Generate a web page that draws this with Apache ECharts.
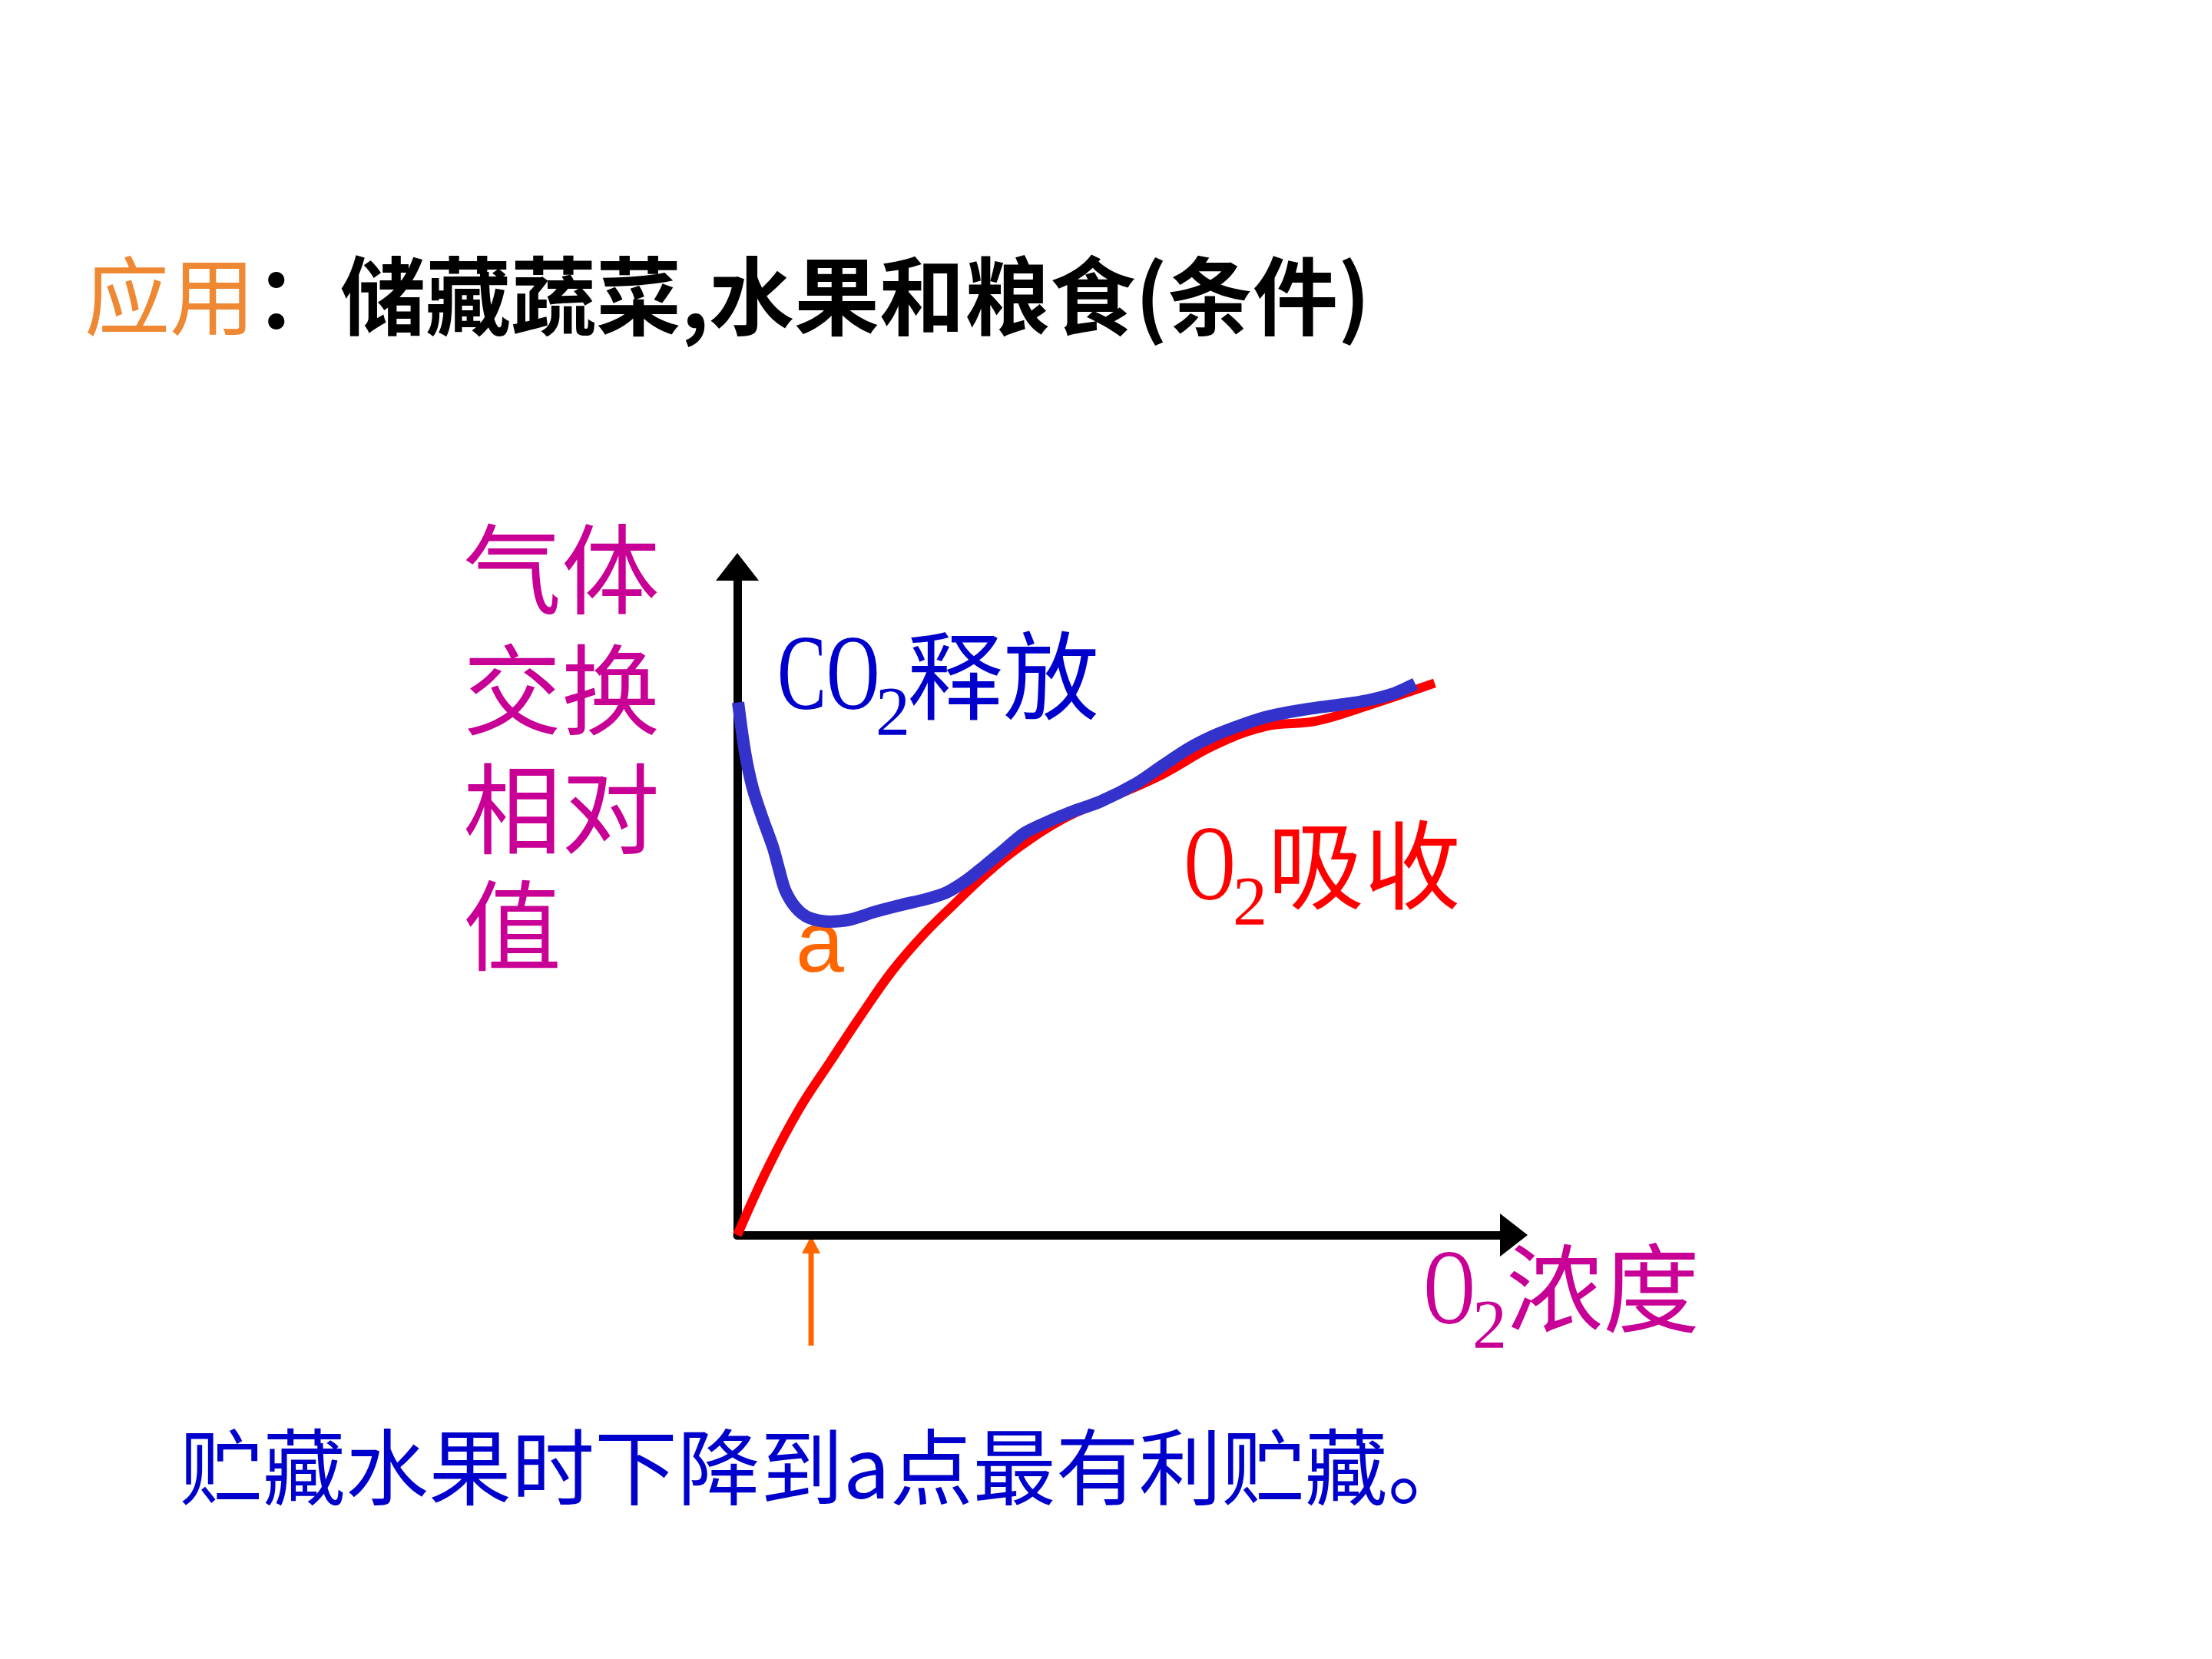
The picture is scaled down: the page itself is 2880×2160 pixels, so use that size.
<!DOCTYPE html>
<html>
<head>
<meta charset="utf-8">
<title>储藏蔬菜,水果和粮食</title>
<script src="https://cdn.jsdelivr.net/npm/echarts@6/dist/echarts.min.js"></script>
<style>
  html, body { margin: 0; padding: 0; background: #fff; }
  #chart { width: 2880px; height: 2160px; }
</style>
</head>
<body>
<div id="chart"></div>
<script>
// 横轴 O2 浓度、纵轴 气体交换相对值，都按 0-100 的相对刻度从原图读出
const o2Uptake = [
  [0, 0], [4, 10.2], [8, 18.9], [12, 26.0], [16, 33.0], [20, 39.6],
  [24, 45.0], [28, 49.6], [32, 54.0], [36, 57.8], [42, 62.3], [48, 65.4],
  [54.7, 68.9], [61.3, 73.2], [68.0, 76.1], [74.5, 76.9], [81.1, 79.2],
  [89.8, 82.6]
]
const co2Release = [
  [0.1, 79.7], [1.0, 72.2], [2.0, 66.8], [3.3, 62.2], [4.6, 58.0], [5.4, 54.6],
  [6.2, 51.5], [7.6, 48.9], [9.2, 47.5], [11.9, 46.9], [14.5, 47.2],
  [17.8, 48.4], [21.1, 49.4], [24.4, 50.3], [27.0, 51.3], [29.4, 53.0],
  [31.7, 55.1], [34.3, 57.6], [36.9, 60.1], [39.3, 61.5], [43.0, 63.3],
  [46.8, 64.9], [51.4, 67.6], [54.7, 70.2], [58.1, 72.8], [61.3, 74.7],
  [64.6, 76.2], [68.0, 77.5], [71.2, 78.3], [74.5, 78.9], [77.8, 79.4],
  [81.1, 80.0], [84.4, 81.0], [86.4, 82.0], [87.3, 82.5]
]
// 箭头指向的 O2 浓度（a 点附近）
const pointA = 9.5

const titleHead = '应用'
const titleBody = '：储藏蔬菜,水果和粮食(条件)'
const yNameLines = ['气体', '交换', '相对', '值']
const noteText = '贮藏水果时下降到a点最有利贮藏。'

const CJK = '"Noto Sans CJK SC", sans-serif'
const SERIF = '"Liberation Serif", serif'
const MAGENTA = '#C80096'
const BLUE = '#0000CC'
const RED = '#FF0000'
const ORANGE = '#FF6600'

const chart = echarts.init(document.getElementById('chart'), null, { renderer: 'canvas' })

function txt(id, text, x, y, color, size, family, opts = {}) {
  return {
    type: 'text', id, x, y,
    scaleX: opts.scaleX || 1,
    silent: true,
    style: {
      text, fill: color,
      fontSize: size, fontFamily: family, fontWeight: opts.weight || 'normal',
      align: 'left', verticalAlign: 'middle',
      textAlign: 'left', textVerticalAlign: 'middle'
    }
  }
}

const axisLine = {
  show: true,
  onZero: true,
  symbol: ['none', 'triangle'],
  symbolSize: [56, 36],
  lineStyle: { color: '#000', width: 11 }
}

chart.setOption({
  animation: false,
  backgroundColor: '#fff',
  grid: { left: 960, top: 738, width: 1011, height: 870, containLabel: false },
  xAxis: {
    type: 'value', min: 0, max: 100,
    axisLine,
    axisTick: { show: false }, axisLabel: { show: false }, splitLine: { show: false }
  },
  yAxis: {
    type: 'value', min: 0, max: 100,
    axisLine,
    axisTick: { show: false }, axisLabel: { show: false }, splitLine: { show: false }
  },
  series: [
    {
      name: 'O2吸收', type: 'line', data: o2Uptake,
      showSymbol: false, smooth: 0.4, clip: false, silent: true, z: 2,
      lineStyle: { color: RED, width: 12 }, itemStyle: { color: RED }
    },
    {
      name: 'CO2释放', type: 'line', data: co2Release,
      showSymbol: false, smooth: 0.3, clip: false, silent: true, z: 3,
      lineStyle: { color: '#3333CC', width: 16 }, itemStyle: { color: '#3333CC' }
    }
  ]
})

// 指向 a 点的小箭头，位置由坐标系换算
const [ax, ay] = chart.convertToPixel({ gridIndex: 0 }, [pointA, 0])

const graphics = [
  {
    type: 'text', id: 'title', x: 110, y: 386, silent: true,
    style: {
      text: '{h|' + titleHead + '}{b|' + titleBody + '}',
      align: 'left', verticalAlign: 'middle',
      rich: {
        h: { fontSize: 111, fontFamily: CJK, fill: '#EE8833', color: '#EE8833' },
        b: { fontSize: 111, fontFamily: CJK, fontWeight: 'bold', fill: '#000', color: '#000' }
      }
    }
  },
  txt('co', 'CO', 1012, 886, BLUE, 139, SERIF, { scaleX: 0.69 }),
  txt('co2', '2', 1140, 933, BLUE, 90, SERIF),
  txt('co3', '释放', 1181, 879, BLUE, 125, CJK),
  txt('o2a', 'O', 1542, 1134, RED, 139, SERIF, { scaleX: 0.66 }),
  txt('o2b', '2', 1605, 1180, RED, 90, SERIF),
  txt('o2c', '吸收', 1650, 1126, RED, 126, CJK),
  txt('xa', 'O', 1854, 1686, MAGENTA, 139, SERIF, { scaleX: 0.66 }),
  txt('xb', '2', 1917, 1731, MAGENTA, 90, SERIF),
  txt('xc', '浓度', 1961, 1677, MAGENTA, 126, CJK),
  txt('pa', 'a', 1036, 1234, ORANGE, 113, '"Liberation Sans", sans-serif'),
  txt('note', noteText, 234, 1910, BLUE, 108, CJK),
  {
    type: 'line', id: 'arrowShaft', silent: true,
    shape: { x1: ax, y1: ay + 144, x2: ax, y2: ay + 22 },
    style: { stroke: ORANGE, lineWidth: 7 }
  },
  {
    type: 'polygon', id: 'arrowHead', silent: true,
    shape: { points: [[ax, ay + 1], [ax + 12, ay + 24], [ax - 12, ay + 24]] },
    style: { fill: ORANGE }
  }
]
const yCenters = [741, 898, 1053, 1205]
yNameLines.forEach((s, i) => {
  graphics.push(txt('yn' + i, s, 603, yCenters[i], MAGENTA, 128, CJK))
})

chart.setOption({ graphic: graphics })
</script>
</body>
</html>
